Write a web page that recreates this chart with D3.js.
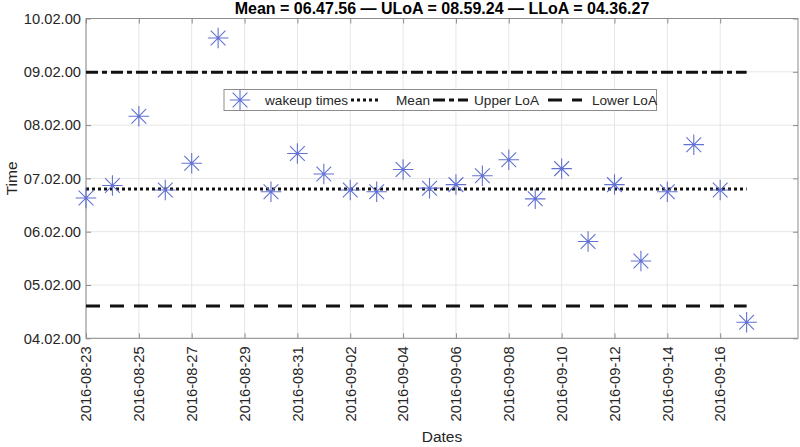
<!DOCTYPE html>
<html>
<head>
<meta charset="utf-8">
<script src="https://cdn.jsdelivr.net/npm/d3@7"></script>
<style>
  html, body { margin: 0; padding: 0; background: #fff; }
  svg { display: block; font-family: "Liberation Sans", Arial, Helvetica, sans-serif; }
</style>
</head>
<body>
<svg id="chart" width="800" height="447"></svg>
<script>
// ---- data ----
const dates = ["2016-08-23","2016-08-24","2016-08-25","2016-08-26","2016-08-27","2016-08-28",
  "2016-08-30","2016-08-31","2016-09-01","2016-09-02","2016-09-03","2016-09-04","2016-09-05",
  "2016-09-06","2016-09-07","2016-09-08","2016-09-09","2016-09-10","2016-09-11","2016-09-12",
  "2016-09-13","2016-09-14","2016-09-15","2016-09-16","2016-09-17"];
const wakeTimes = ["06:38","06:52","08:10","06:47","07:17","09:38",
  "06:45","07:28","07:05","06:47","06:45","07:10","06:49",
  "06:53","07:03","07:21","06:37","07:11","05:49","06:53",
  "05:27","06:45","07:38","06:47","04:18"];
const statNames = ["Mean","Upper LoA","Lower LoA"];
const statValues = ["06:47:56","08:59:24","04:36:27"];
const statTitleNames = ["Mean","ULoA","LLoA"];
const yTickHours = [4,5,6,7,8,9,10];
const yTickLabels = ["04.02.00","05.02.00","06.02.00","07.02.00","08.02.00","09.02.00","10.02.00"];
const xTickLabels = ["2016-08-23","2016-08-25","2016-08-27","2016-08-29","2016-08-31","2016-09-02",
  "2016-09-04","2016-09-06","2016-09-08","2016-09-10","2016-09-12","2016-09-14","2016-09-16"];
const xLimits = ["2016-08-23 00:00","2016-09-18 22:40"];
const seriesName = "wakeup times";
const xLabel = "Dates", yLabel = "Time";

// ---- helpers ----
const parseDate = d3.timeParse("%Y-%m-%d");
const parseLim = d3.timeParse("%Y-%m-%d %H:%M");
const toHours = s => { const p = s.split(":").map(Number); return p[0] + p[1]/60 + (p[2]||0)/3600; };

const points = dates.map((d,i) => ({date: parseDate(d), h: toHours(wakeTimes[i])}));
const stats = statNames.map((n,i) => ({name: n, h: toHours(statValues[i])}));

const L = 86, R = 798, T = 18.5, B = 338.3;
const svg = d3.select("#chart");
const x = d3.scaleTime().domain(xLimits.map(parseLim)).range([L, R]);
const y = d3.scaleLinear().domain([4, 10]).range([B, T]);

const axisColor = "#8c8c8c", textColor = "#262626", gridColor = "#e6e6e6";
const xTicks = xTickLabels.map(parseDate);

// grid
svg.append("g").selectAll("line").data(xTicks).join("line")
  .attr("x1", d => x(d)).attr("x2", d => x(d)).attr("y1", T).attr("y2", B)
  .attr("stroke", gridColor).attr("stroke-width", 1);
svg.append("g").selectAll("line").data(yTickHours).join("line")
  .attr("x1", L).attr("x2", R).attr("y1", d => y(d)).attr("y2", d => y(d))
  .attr("stroke", gridColor).attr("stroke-width", 1);

// axes via d3 axis generators (inward ticks)
const xAxisB = d3.axisBottom(x).tickValues(xTicks).tickSizeInner(-5).tickSizeOuter(0).tickFormat("");
const xAxisT = d3.axisTop(x).tickValues(xTicks).tickSizeInner(-5).tickSizeOuter(0).tickFormat("");
const yAxisL = d3.axisLeft(y).tickValues(yTickHours).tickSizeInner(-5).tickSizeOuter(0).tickFormat("");
const yAxisR = d3.axisRight(y).tickValues(yTickHours).tickSizeInner(-5).tickSizeOuter(0).tickFormat("");
function styleAxis(g){ g.selectAll("path,line").attr("stroke", axisColor); g.select(".domain").remove(); }
svg.append("g").attr("transform", `translate(0,${B})`).call(xAxisB).call(styleAxis);
svg.append("g").attr("transform", `translate(0,${T})`).call(xAxisT).call(styleAxis);
svg.append("g").attr("transform", `translate(${L},0)`).call(yAxisL).call(styleAxis);
svg.append("g").attr("transform", `translate(${R},0)`).call(yAxisR).call(styleAxis);
svg.append("rect").attr("x", L).attr("y", T).attr("width", R-L).attr("height", B-T)
  .attr("fill", "none").attr("stroke", axisColor).attr("stroke-width", 1);

// tick labels
svg.append("g").selectAll("text").data(yTickHours).join("text")
  .attr("x", L - 5).attr("y", d => y(d)).attr("dy", "0.36em")
  .attr("text-anchor", "end").attr("font-size", 14.7).attr("fill", textColor)
  .text((d,i) => yTickLabels[i]);
svg.append("g").selectAll("text").data(xTicks).join("text")
  .attr("transform", d => `translate(${x(d)},${B + 8}) rotate(-90)`)
  .attr("dy", "0.36em").attr("text-anchor", "end").attr("font-size", 14.7).attr("fill", textColor)
  .text((d,i) => xTickLabels[i]);

// axis labels
svg.append("text").attr("x", (L+R)/2).attr("y", 442).attr("text-anchor", "middle")
  .attr("font-size", 15.5).attr("fill", textColor).text(xLabel);
svg.append("text").attr("transform", `translate(17,${(T+B)/2}) rotate(-90)`).attr("text-anchor", "middle")
  .attr("font-size", 15.5).attr("fill", textColor).text(yLabel);

// title
svg.append("text").attr("x", (L+R)/2).attr("y", 14).attr("text-anchor", "middle")
  .attr("font-size", 16).attr("font-weight", "bold").attr("fill", "#000")
  .text(statTitleNames.map((n,i) => `${n} = ${statValues[i].replace(/:/g, ".")}`).join(" \u2014 "));

// reference lines
const dashes = {"Mean": "3,3", "Upper LoA": "12,4,5,4", "Lower LoA": "14,10"};
const xExtent = d3.extent(points, d => d.date);
svg.append("g").selectAll("line").data(stats).join("line")
  .attr("x1", x(xExtent[0])).attr("x2", x(xExtent[1]))
  .attr("y1", d => y(d.h)).attr("y2", d => y(d.h))
  .attr("stroke", "#111").attr("stroke-width", 3)
  .attr("stroke-dasharray", d => dashes[d.name]);

// asterisk symbol (plus + times)
const asterisk = {
  draw(ctx, size) {
    const r = Math.sqrt(size) / 2, d = r * 0.72;
    ctx.moveTo(0, -r); ctx.lineTo(0, r);
    ctx.moveTo(-r, 0); ctx.lineTo(r, 0);
    ctx.moveTo(-d, -d); ctx.lineTo(d, d);
    ctx.moveTo(-d, d); ctx.lineTo(d, -d);
  }
};
const markColor = "#6272d2";
const sym = d3.symbol().type(asterisk).size(420);
svg.append("g").selectAll("path").data(points).join("path")
  .attr("transform", d => `translate(${x(d.date)},${y(d.h)})`)
  .attr("d", sym).attr("fill", "none").attr("stroke", markColor).attr("stroke-width", 1.1);

// legend
const lg = svg.append("g");
lg.append("rect").attr("x", 224).attr("y", 89.5).attr("width", 432.5).attr("height", 21)
  .attr("fill", "#fff").attr("stroke", "#8c8c8c").attr("stroke-width", 1);
const ly = 100;
lg.append("path").attr("transform", `translate(240,${ly})`).attr("d", sym)
  .attr("fill", "none").attr("stroke", markColor).attr("stroke-width", 1.1);
lg.append("text").attr("x", 265).attr("y", ly).attr("dy", "0.36em")
  .attr("font-size", 13.6).attr("fill", textColor).text(seriesName);
const legItems = [
  {name: statNames[0], x1: 351, x2: 380, tx: 396},
  {name: statNames[1], x1: 433, x2: 468, tx: 474},
  {name: statNames[2], x1: 548, x2: 582, tx: 592}
];
legItems.forEach(it => {
  lg.append("line").attr("x1", it.x1).attr("x2", it.x2).attr("y1", ly).attr("y2", ly)
    .attr("stroke", "#111").attr("stroke-width", 3).attr("stroke-dasharray", dashes[it.name]);
  lg.append("text").attr("x", it.tx).attr("y", ly).attr("dy", "0.36em")
    .attr("font-size", 13.6).attr("fill", textColor).text(it.name);
});
</script>
</body>
</html>
